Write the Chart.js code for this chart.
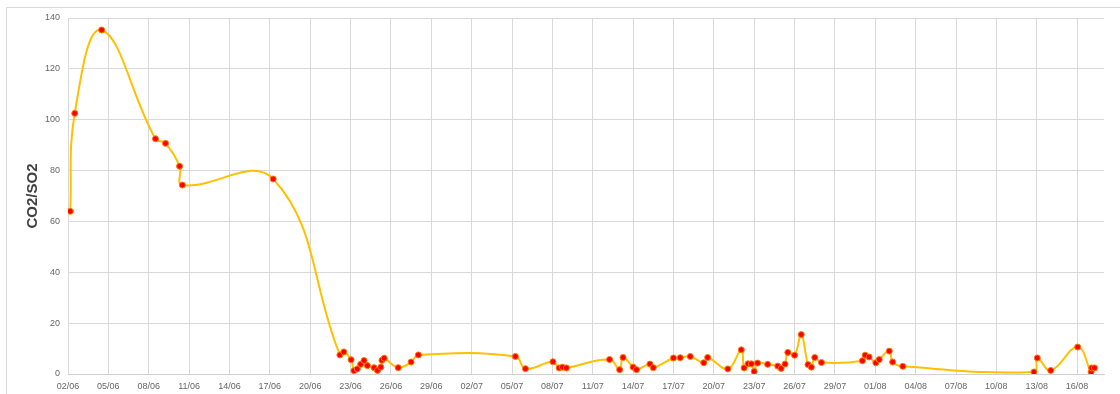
<!DOCTYPE html>
<html>
<head>
<meta charset="utf-8">
<script src="https://cdn.jsdelivr.net/npm/chart.js@4.4.0/dist/chart.umd.min.js"></script>
<style>
  html, body { margin: 0; padding: 0; background: #fff; overflow: hidden; }
  .frame { position: absolute; left: 6px; top: 7px; width: 1130px; height: 410px; border: 1px solid #d9d9d9; }
  .wrap { position: absolute; left: 0; top: 0; width: 1120px; height: 394px; }
</style>
</head>
<body>
<div class="frame"></div>
<div class="wrap"><canvas id="ratioChart"></canvas></div>
<script>
// sampling times (dd/mm hh:mm) and CO2/SO2 ratio
const sampleTimes = [
  '02/06 04:00', '02/06 12:00', '04/06 12:00', '08/06 12:00', '09/06 06:00',
  '10/06 07:00', '10/06 12:00', '17/06 06:00', '22/06 05:00', '22/06 12:00',
  '23/06 01:00', '23/06 06:00', '23/06 12:00', '23/06 18:00', '24/06 00:00',
  '24/06 06:00', '24/06 18:00', '25/06 00:00', '25/06 06:00', '25/06 08:00',
  '25/06 12:00', '26/06 13:00', '27/06 12:00', '28/06 01:00', '05/07 06:00',
  '06/07 00:00', '08/07 01:00', '08/07 12:00', '08/07 18:00', '09/07 01:00',
  '12/07 06:00', '13/07 00:00', '13/07 06:00', '14/07 00:00', '14/07 06:00',
  '15/07 06:00', '15/07 12:00', '17/07 00:00', '17/07 12:00', '18/07 06:00',
  '19/07 06:00', '19/07 13:00', '21/07 01:00', '22/07 01:00', '22/07 06:00',
  '22/07 13:00', '22/07 19:00', '23/07 00:00', '23/07 06:00', '24/07 00:00',
  '24/07 18:00', '25/07 00:00', '25/07 07:00', '25/07 12:00', '26/07 00:00',
  '26/07 12:00', '27/07 00:00', '27/07 06:00', '27/07 12:00', '28/07 00:00',
  '31/07 01:00', '31/07 06:00', '31/07 13:00', '01/08 01:00', '01/08 07:00',
  '02/08 01:00', '02/08 07:00', '03/08 01:00', '12/08 19:00', '13/08 01:00',
  '14/08 01:00', '16/08 01:00', '17/08 01:00', '17/08 02:00', '17/08 07:00'
];
const ratioValues = [
  64, 102.5, 135.3, 92.5, 90.7,
  81.7, 74.3, 76.7, 7.5, 8.7,
  5.6, 1.3, 2.0, 3.8, 5.3,
  3.3, 2.5, 1.4, 2.7, 5.4,
  6.2, 2.5, 4.7, 7.5, 6.9,
  2.1, 4.8, 2.4, 2.7, 2.4,
  5.7, 1.7, 6.5, 2.7, 1.7,
  3.9, 2.5, 6.3, 6.4, 6.9,
  4.4, 6.5, 2.0, 9.5, 2.4,
  4.0, 4.0, 1.0, 4.3, 3.8,
  3.1, 2.2, 3.9, 8.5, 7.4,
  15.5, 3.7, 2.7, 6.5, 4.5,
  5.2, 7.4, 6.7, 4.4, 5.7,
  9.0, 4.7, 3.0, 0.8, 6.3,
  1.4, 10.6, 0.8, 2.4, 2.4
];
const xTickDates = [
  '02/06', '05/06', '08/06', '11/06', '14/06', '17/06', '20/06', '23/06', '26/06',
  '29/06', '02/07', '05/07', '08/07', '11/07', '14/07', '17/07', '20/07', '23/07',
  '26/07', '29/07', '01/08', '04/08', '07/08', '10/08', '13/08', '16/08'
];
const xEndDate = '18/08';
const yTicks = [0, 20, 40, 60, 80, 100, 120, 140];

const YEAR = 2023;
const base = Date.UTC(YEAR, 5, 2);
const DAY = 86400000;

// days since 02/06 for a "dd/mm" or "dd/mm hh:mm" string
function toDay(s) {
  const [d, t = '00:00'] = s.split(' ');
  const [dd, mm] = d.split('/').map(Number);
  const [hh, mi] = t.split(':').map(Number);
  return (Date.UTC(YEAR, mm - 1, dd, hh, mi) - base) / DAY;
}

function dayLabel(v) {
  const dt = new Date(base + Math.round(v * DAY));
  const pad = n => String(n).padStart(2, '0');
  return pad(dt.getUTCDate()) + '/' + pad(dt.getUTCMonth() + 1);
}

const points = sampleTimes.map((t, i) => ({ x: toDay(t), y: ratioValues[i] }));

const tickFont = { family: 'Liberation Sans', size: 9 };
const gridColor = '#d9d9d9';

new Chart(document.getElementById('ratioChart'), {
  type: 'line',
  data: {
    datasets: [{
      data: points,
      borderColor: '#ffc000',
      borderWidth: 2,
      tension: 0.42,
      fill: false,
      pointRadius: 3,
      pointBackgroundColor: '#ff0000',
      pointBorderColor: '#ff7a00',
      pointBorderWidth: 1
    }]
  },
  options: {
    responsive: true,
    maintainAspectRatio: false,
    animation: false,
    layout: { padding: { left: 0, right: 16, top: 18, bottom: 0 } },
    plugins: {
      legend: { display: false },
      tooltip: { enabled: false }
    },
    scales: {
      x: {
        type: 'linear',
        min: 0,
        max: toDay(xEndDate),
        afterBuildTicks: scale => {
          scale.ticks = xTickDates.map(s => ({ value: toDay(s) }));
        },
        afterFit: scale => { scale.height = 20; },
        grid: { color: gridColor, drawTicks: false },
        border: { color: '#d0d0d0' },
        ticks: {
          font: tickFont,
          color: '#666666',
          padding: 7,
          maxRotation: 0,
          autoSkip: false,
          callback: v => dayLabel(v)
        }
      },
      y: {
        min: 0,
        max: 140,
        afterBuildTicks: scale => {
          scale.ticks = yTicks.map(v => ({ value: v }));
        },
        afterFit: scale => { scale.width = 68; },
        grid: { color: gridColor, drawTicks: false },
        border: { display: false },
        ticks: {
          font: tickFont,
          color: '#666666',
          padding: 8
        },
        title: {
          display: true,
          text: 'CO2/SO2',
          color: '#404040',
          font: { family: 'Liberation Sans', size: 15, weight: 'bold' },
          padding: { top: 24, bottom: 0 }
        }
      }
    }
  }
});
</script>
</body>
</html>
